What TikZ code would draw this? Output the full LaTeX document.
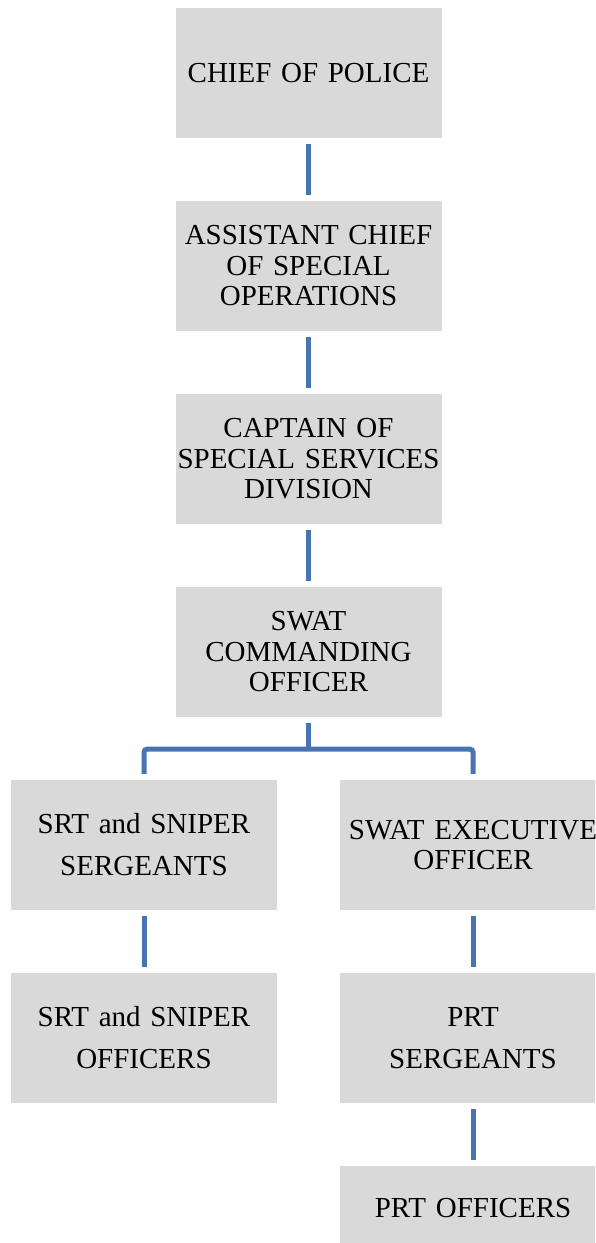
\documentclass[tikz,border=0pt]{standalone}
\usepackage{fontspec}
\setmainfont{Liberation Serif}
\usetikzlibrary{calc}
\definecolor{boxgray}{HTML}{D9D9D9}
\definecolor{linkblue}{RGB}{72,116,178}

\begin{document}
\begin{tikzpicture}[x=1pt,y=1pt,
  every node/.style={inner sep=0pt},
  post/.style={fill=boxgray,text width=266pt,minimum height=130pt,align=center,
    font=\fontsize{29}{30.5}\selectfont},
  widelines/.style={font=\fontsize{29}{42}\selectfont},
  link/.style={draw=linkblue,line width=5pt,shorten <=6pt,shorten >=6pt}]
  \useasboundingbox (0,0) rectangle (595,-1243);
  \clip (0,0) rectangle (595,-1243);

  % centre column
  \node [post] (chief) at (308.5,-73) {CHIEF OF POLICE};
  \node [post] (asst)  at (308.5,-266) {ASSISTANT CHIEF\\OF SPECIAL\\OPERATIONS};
  \node [post] (capt)  at (308.5,-459) {CAPTAIN OF\\SPECIAL SERVICES\\DIVISION};
  \node [post] (cmd)   at (308.5,-652) {SWAT\\COMMANDING\\OFFICER};

  % two branches
  \node [post,widelines] (srtsgt) at (144,-845) {SRT and SNIPER\\SERGEANTS};
  \node [post] (exec) at (473,-845) {SWAT EXECUTIVE\\OFFICER};
  \node [post,widelines] (srtoff) at (144,-1038) {SRT and SNIPER\\OFFICERS};
  \node [post,widelines] (prtsgt) at (473,-1038) {PRT\\SERGEANTS};
  \node [post,minimum height=84pt] (prtoff) at (473,-1208) {PRT OFFICERS};

  \draw [link] (chief) -- (asst);
  \draw [link] (asst) -- (capt);
  \draw [link] (capt) -- (cmd);

  \coordinate (fork) at ($(cmd.south)+(0,-32)$);
  \draw [link,shorten >=0pt] (cmd.south) -- (fork);
  \draw [link,rounded corners=3pt] (srtsgt.north) |- (fork -| exec.north) -- (exec.north);

  \draw [link] (srtsgt) -- (srtoff);
  \draw [link] (exec) -- (prtsgt);
  \draw [link] (prtsgt) -- (prtoff);
\end{tikzpicture}
\end{document}
